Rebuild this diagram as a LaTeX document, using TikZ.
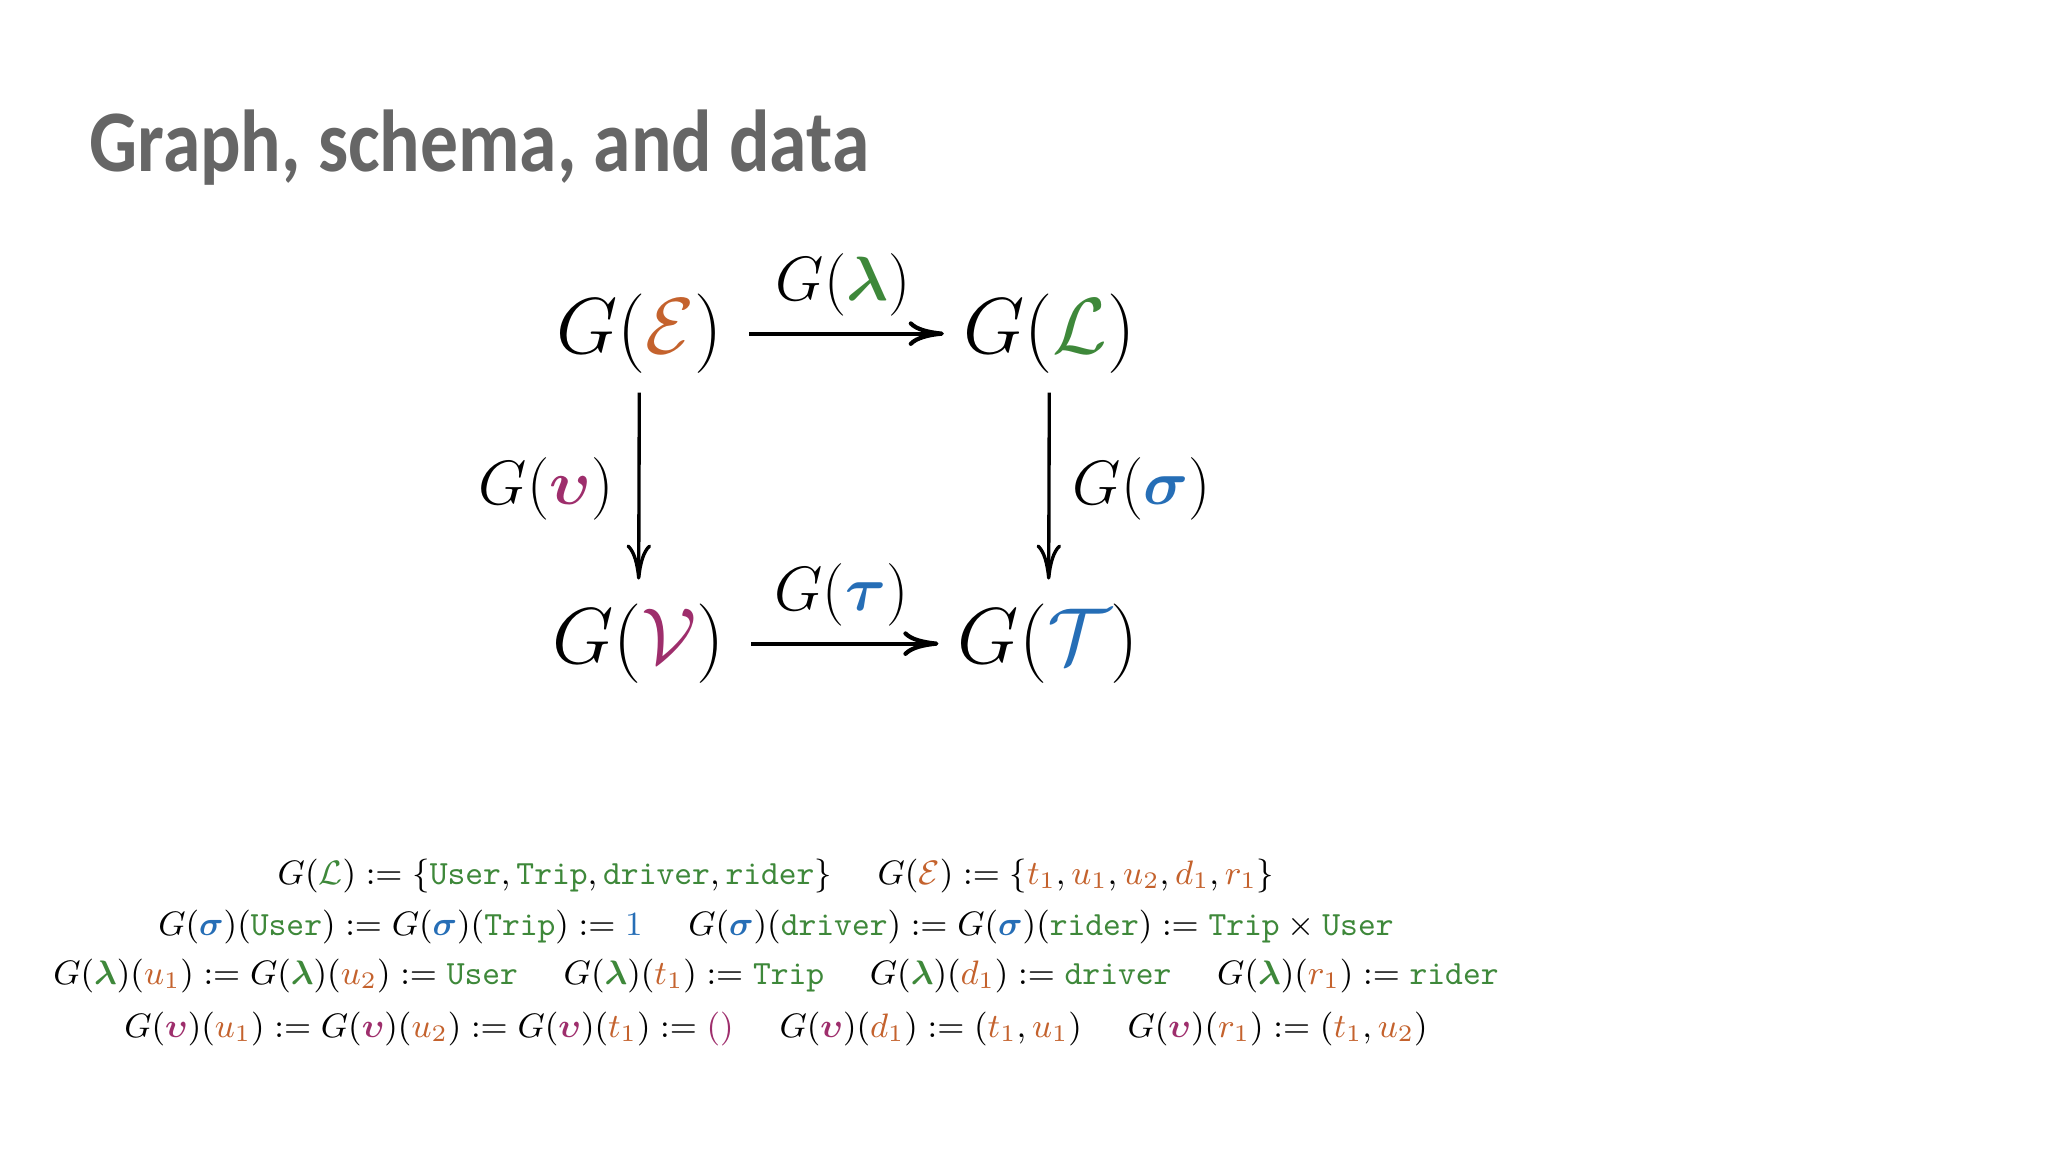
\RequirePackage{fix-cm}
\documentclass[tikz,border=0pt]{standalone}
\usepackage{amsmath,amssymb}
\usepackage{fontspec}
\newfontfamily\titlefont[FakeStretch=0.86]{Carlito}
\usetikzlibrary{arrows.meta}

\definecolor{titlegray}{RGB}{102,102,102}
\definecolor{eorange}{RGB}{196,98,45}
\definecolor{lgreen}{RGB}{62,136,58}
\definecolor{vpurple}{RGB}{158,46,108}
\definecolor{tblue}{RGB}{38,110,182}

\newcommand{\Gof}[2]{G(\textcolor{#1}{#2})}
\newcommand{\lab}[1]{\textcolor{lgreen}{\texttt{#1}}}
\newcommand{\el}[1]{\textcolor{eorange}{#1}}
\newcommand{\Glam}{\Gof{lgreen}{\boldsymbol{\lambda}}}
\newcommand{\Gsig}{\Gof{tblue}{\boldsymbol{\sigma}}}
\newcommand{\Gups}{\Gof{vpurple}{\boldsymbol{\upsilon}}}
\newcommand{\Gtau}{\Gof{tblue}{\boldsymbol{\tau}}}
\newcommand{\gap}{\hspace{13pt}}

\begin{document}
\begin{tikzpicture}[
  obj/.style={font=\fontsize{22.6}{27}\selectfont, anchor=base},
  mor/.style={font=\fontsize{17.8}{21}\selectfont},
  defline/.style={font=\fontsize{9.65}{12}\selectfont, anchor=base},
  hmap/.style={draw, line width=1.2pt, shorten <=4pt, shorten >=2pt, -{To[length=10pt,width=7pt]}},
  vmap/.style={draw, line width=0.95pt, shorten <=2pt, shorten >=3.4pt, -{To[length=10pt,width=7pt]}}]
\useasboundingbox (0,0) rectangle (20.48,11.52);

\node[anchor=base west, inner sep=0, text=titlegray,
  font=\titlefont\bfseries\fontsize{25}{30}\selectfont] (title) at (0.89,9.80) {Graph, schema, and data};

% the square
\node[obj] (GE) at (6.395,7.985) {$\Gof{eorange}{\mathcal{E}}$};
\node[obj] (GL) at (10.495,7.985) {$\Gof{lgreen}{\mathcal{L}}$};
\node[obj] (GV) at (6.385,4.885) {$\Gof{vpurple}{\mathcal{V}}$};
\node[obj] (GT) at (10.485,4.885) {$\Gof{tblue}{\mathcal{T}}$};

\path[hmap] (GE) edge node[mor,above=1pt] {$\Glam$} (GL);
\path[hmap] (GV) edge node[mor,above=1pt] {$\Gtau$} (GT);
\path[vmap] (GE) edge node[mor,left=3.5pt] {$\Gups$} (GV);
\path[vmap] (GL) edge node[mor,right=3pt] {$\Gsig$} (GT);

% the data
\node[defline] (defL) at (7.76,2.67) {$G(\textcolor{lgreen}{\mathcal{L}}) := \{\lab{User}, \lab{Trip}, \lab{driver}, \lab{rider}\} \gap
  G(\el{\mathcal{E}}) := \{\el{t_1}, \el{u_1}, \el{u_2}, \el{d_1}, \el{r_1}\}$};
\node[defline] (defS) at (7.76,2.16) {$\Gsig(\lab{User}) := \Gsig(\lab{Trip}) := \textcolor{tblue}{1} \gap
  \Gsig(\lab{driver}) := \Gsig(\lab{rider}) := \lab{Trip} \times \lab{User}$};
\node[defline] (defLam) at (7.76,1.67) {$\Glam(\el{u_1}) := \Glam(\el{u_2}) := \lab{User} \gap
  \Glam(\el{t_1}) := \lab{Trip} \gap \Glam(\el{d_1}) := \lab{driver} \gap \Glam(\el{r_1}) := \lab{rider}$};
\node[defline] (defU) at (7.76,1.14) {$\Gups(\el{u_1}) := \Gups(\el{u_2}) := \Gups(\el{t_1}) := \textcolor{vpurple}{()} \gap
  \Gups(\el{d_1}) := (\el{t_1}, \el{u_1}) \gap \Gups(\el{r_1}) := (\el{t_1}, \el{u_2})$};
\end{tikzpicture}
\end{document}
